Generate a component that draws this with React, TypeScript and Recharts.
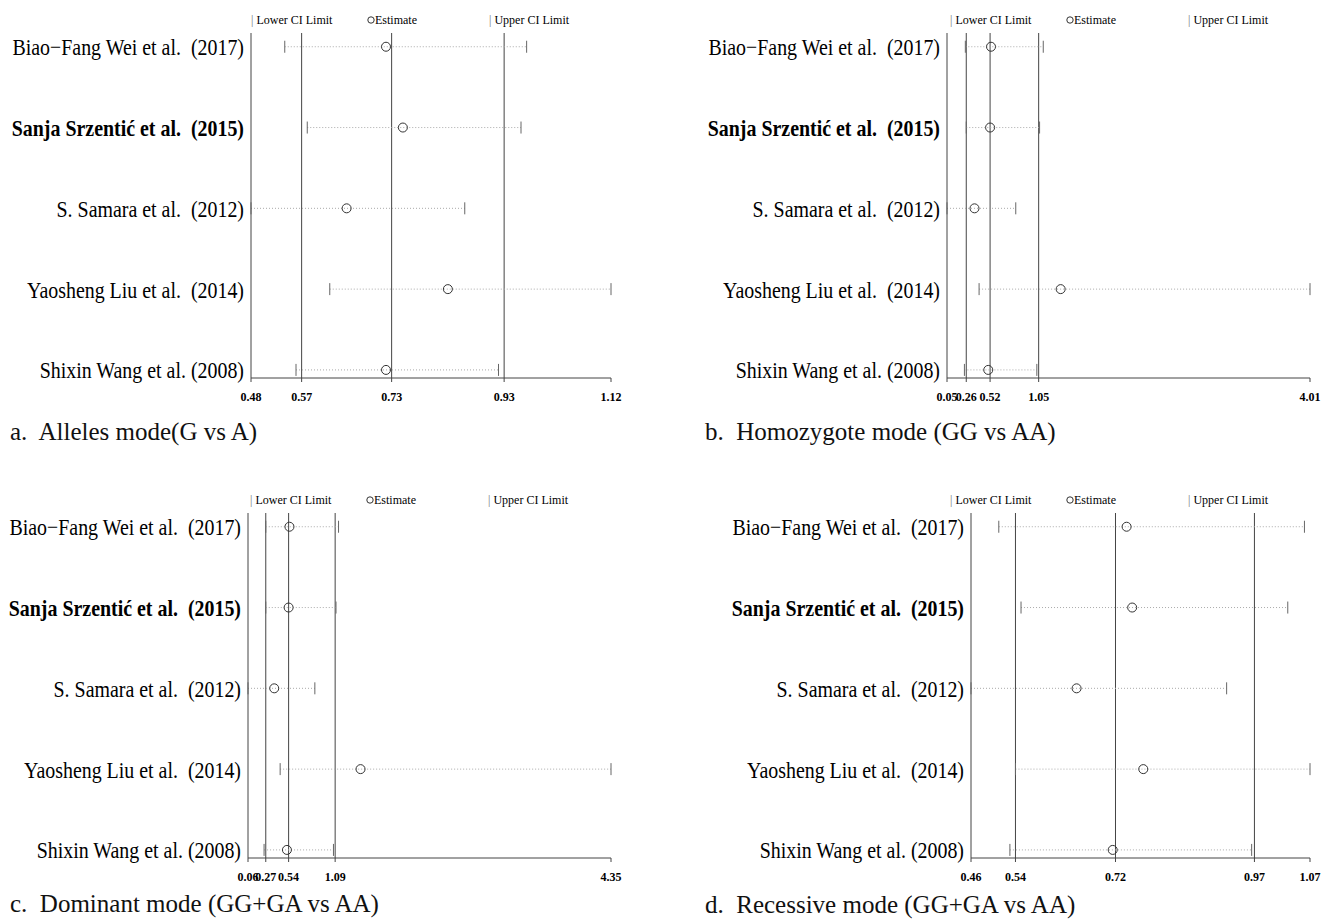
import React from "react";
import { ScatterChart, Scatter, XAxis, YAxis, ReferenceLine } from "recharts";

const studies = [
  "Biao−Fang Wei et al.  (2017)",
  "Sanja Srzentić et al.  (2015)",
  "S. Samara et al.  (2012)",
  "Yaosheng Liu et al.  (2014)",
  "Shixin Wang et al. (2008)",
];
const boldStudy = "Sanja Srzentić et al.  (2015)";

// a. alleles mode
const allelesLower = [0.54, 0.58, 0.48, 0.62, 0.56];
const allelesEst = [0.72, 0.75, 0.65, 0.83, 0.72];
const allelesUpper = [0.97, 0.96, 0.86, 1.12, 0.92];
const allelesPooled = [0.57, 0.73, 0.93];
const allelesTicks = [0.48, 0.57, 0.73, 0.93, 1.12];

// b. homozygote mode
const homLower = [0.25, 0.26, 0.05, 0.4, 0.24];
const homEst = [0.53, 0.52, 0.35, 1.29, 0.5];
const homUpper = [1.1, 1.06, 0.8, 4.01, 1.03];
const homPooled = [0.26, 0.52, 1.05];
const homTicks = [0.05, 0.26, 0.52, 1.05, 4.01];

// c. dominant mode
const domLower = [0.27, 0.27, 0.06, 0.44, 0.25];
const domEst = [0.55, 0.54, 0.37, 1.39, 0.52];
const domUpper = [1.13, 1.1, 0.85, 4.35, 1.07];
const domPooled = [0.27, 0.54, 1.09];
const domTicks = [0.06, 0.27, 0.54, 1.09, 4.35];

// d. recessive mode
const recLower = [0.51, 0.55, 0.46, 0.54, 0.53];
const recEst = [0.74, 0.75, 0.65, 0.77, 0.715];
const recUpper = [1.06, 1.03, 0.92, 1.07, 0.965];
const recPooled = [0.54, 0.72, 0.97];
const recTicks = [0.46, 0.54, 0.72, 0.97, 1.07];

const FONT = '"Liberation Serif", "Times New Roman", serif';

const StudyTick = (props: any) => {
  const { x, y, payload } = props;
  const name = studies[studies.length - payload.value];
  return (
    <g transform={`translate(${x - 7},${y}) scale(0.83,1)`}>
      <text
        x={0}
        y={0}
        dy="0.35em"
        textAnchor="end"
        fontSize={24}
        fontFamily={FONT}
        fontWeight={name === boldStudy ? 700 : 400}
        fill="#000"
        style={{ whiteSpace: "pre" }}
      >
        {name}
      </text>
    </g>
  );
};

const Cap = (p: any) => (
  <line x1={p.cx} x2={p.cx} y1={p.cy - 6} y2={p.cy + 6} stroke="#666" strokeWidth={1} />
);

const Estimate = (p: any) => (
  <circle cx={p.cx} cy={p.cy} r={4.5} fill="none" stroke="#333" strokeWidth={1} />
);

const Legend = ({ x }: { x: number }) => (
  <div
    style={{
      position: "absolute",
      left: x,
      top: 13,
      fontFamily: FONT,
      fontSize: 12,
      lineHeight: "14px",
      color: "#000",
      whiteSpace: "nowrap",
    }}
  >
    <span style={{ position: "absolute", left: 0 }}>
      <span style={{ color: "#777" }}>|</span> Lower CI Limit
    </span>
    <span style={{ position: "absolute", left: 116 }}>
      <svg width={8} height={10} style={{ verticalAlign: "-1px" }}>
        <circle cx={4} cy={5} r={3.2} fill="none" stroke="#333" />
      </svg>
      Estimate
    </span>
    <span style={{ position: "absolute", left: 238 }}>
      <span style={{ color: "#777" }}>|</span> Upper CI Limit
    </span>
  </div>
);

type PanelProps = {
  left: number;
  top: number;
  width: number;
  axisLeft: number;
  rightMargin: number;
  legendX: number;
  captionX: number;
  captionTop: number;
  caption: string;
  lower: number[];
  est: number[];
  upper: number[];
  pooled: number[];
  ticks: number[];
};

const Panel = (p: PanelProps) => {
  const rows = studies.map((s, i) => ({
    study: s,
    row: studies.length - i,
    lower: p.lower[i],
    est: p.est[i],
    upper: p.upper[i],
  }));
  const lowerPts = rows.map((r) => ({ x: r.lower, row: r.row }));
  const upperPts = rows.map((r) => ({ x: r.upper, row: r.row }));
  const estPts = rows.map((r) => ({ x: r.est, row: r.row }));
  return (
    <div style={{ position: "absolute", left: p.left, top: p.top, width: p.width, height: 440 }}>
      <ScatterChart
        width={p.width}
        height={410}
        margin={{ top: 33, right: p.rightMargin, bottom: 2, left: 0 }}
      >
        <XAxis
          type="number"
          dataKey="x"
          domain={[p.ticks[0], p.ticks[p.ticks.length - 1]]}
          ticks={p.ticks}
          interval={0}
          tickFormatter={(v: number) => v.toFixed(2)}
          tickSize={4}
          tickMargin={10}
          height={30}
          stroke="#444"
          tick={{ fontSize: 12, fontFamily: FONT, fill: "#000", fontWeight: 700 }}
        />
        <YAxis
          type="number"
          dataKey="row"
          domain={[0.9, 5.17]}
          ticks={[1, 2, 3, 4, 5]}
          interval={0}
          width={p.axisLeft}
          tickSize={0}
          tickMargin={0}
          tickLine={false}
          stroke="#444"
          tick={<StudyTick />}
        />
        {p.pooled.map((v) => (
          <ReferenceLine key={`ref-${v}`} x={v} stroke="#444" strokeWidth={1} />
        ))}
        {rows.map((r) => (
          <ReferenceLine
            key={`ci-${r.row}`}
            segment={[
              { x: r.lower, y: r.row },
              { x: r.upper, y: r.row },
            ]}
            stroke="#aaa"
            strokeDasharray="1 2"
          />
        ))}
        <Scatter data={lowerPts} shape={Cap} isAnimationActive={false} />
        <Scatter data={upperPts} shape={Cap} isAnimationActive={false} />
        <Scatter data={estPts} shape={Estimate} isAnimationActive={false} />
      </ScatterChart>
      <Legend x={p.legendX} />
      <div
        style={{
          position: "absolute",
          left: p.captionX,
          top: p.captionTop,
          fontFamily: FONT,
          fontSize: 25,
          lineHeight: "24px",
          color: "#111",
          whiteSpace: "pre",
        }}
      >
        {p.caption}
      </div>
    </div>
  );
};

const App = () => {
  return (
    <div
      style={{
        position: "absolute",
        left: 0,
        top: 0,
        width: 1326,
        height: 920,
        background: "#fff",
        overflow: "hidden",
      }}
    >
      <Panel
        left={0}
        top={0}
        width={640}
        axisLeft={251}
        rightMargin={29}
        legendX={251}
        captionX={10}
        captionTop={420}
        caption="a.  Alleles mode(G vs A)"
        lower={allelesLower}
        est={allelesEst}
        upper={allelesUpper}
        pooled={allelesPooled}
        ticks={allelesTicks}
      />
      <Panel
        left={660}
        top={0}
        width={666}
        axisLeft={287}
        rightMargin={16}
        legendX={290}
        captionX={45}
        captionTop={420}
        caption="b.  Homozygote mode (GG vs AA)"
        lower={homLower}
        est={homEst}
        upper={homUpper}
        pooled={homPooled}
        ticks={homTicks}
      />
      <Panel
        left={0}
        top={480}
        width={640}
        axisLeft={248}
        rightMargin={29}
        legendX={250}
        captionX={10}
        captionTop={412}
        caption="c.  Dominant mode (GG+GA vs AA)"
        lower={domLower}
        est={domEst}
        upper={domUpper}
        pooled={domPooled}
        ticks={domTicks}
      />
      <Panel
        left={660}
        top={480}
        width={666}
        axisLeft={311}
        rightMargin={16}
        legendX={290}
        captionX={45}
        captionTop={413}
        caption="d.  Recessive mode (GG+GA vs AA)"
        lower={recLower}
        est={recEst}
        upper={recUpper}
        pooled={recPooled}
        ticks={recTicks}
      />
    </div>
  );
};

export default App;
